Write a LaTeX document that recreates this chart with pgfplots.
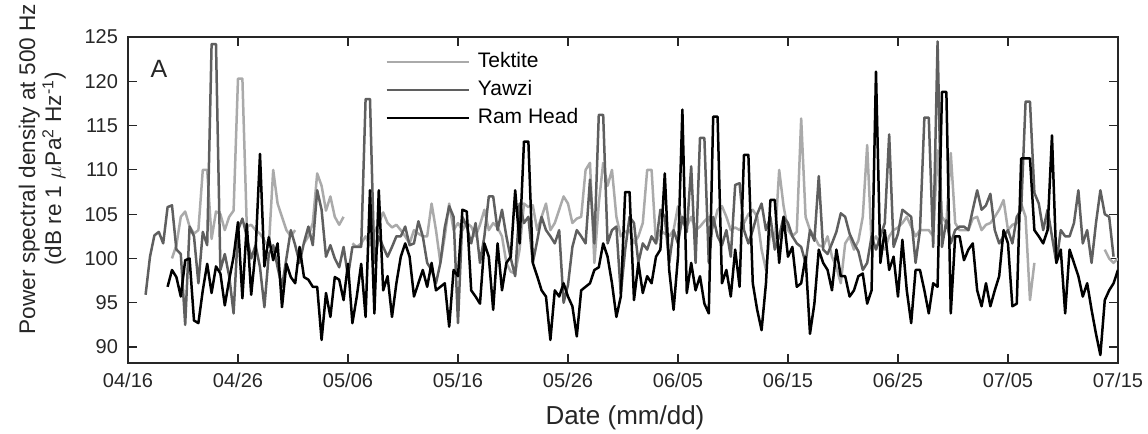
\documentclass[border=0pt]{standalone}
\usepackage{pgfplots}
\usepackage{pgfplotstable}
\pgfplotsset{compat=1.18}
\usepackage{fontspec}
\setmainfont{Liberation Sans}
\definecolor{tek}{RGB}{170,170,170}
\definecolor{yaw}{RGB}{95,95,95}
\definecolor{axc}{RGB}{38,38,38}
\pgfplotstableread{
idx T Y R
0 nan nan nan
1 nan nan nan
2 nan nan nan
3 nan nan nan
4 nan 95.9 nan
5 nan 100.2 nan
6 nan 102.6 nan
7 nan 103 nan
8 nan 101.7 nan
9 nan 105.8 96.8
10 100 106 98.7
11 101.5 101 97.9
12 104.7 100.5 95.7
13 105.3 92.5 99.8
14 103.6 103.6 100
15 102.8 102.5 93
16 103.2 97.2 92.7
17 110 103 96.4
18 110 101.5 99.4
19 102.2 124.2 96.1
20 105.3 124.2 99.1
21 105 98.7 98.3
22 103.2 100.5 94.7
23 104.7 98 97.6
24 105.4 93.8 100.2
25 120.3 103.2 104.1
26 120.3 104.5 95.5
27 103.6 102.5 103.9
28 103.8 100 95.9
29 103.2 101.5 100.9
30 102.8 99 111.8
31 102 94.5 99.1
32 101.3 100.5 102.4
33 110 101.5 99.8
34 106.2 99 101.7
35 104.7 96.8 94.5
36 103.2 100 99.4
37 102.5 103.2 97.9
38 103.2 101.5 97.2
39 nan 99.5 101.3
40 101.7 101.8 97.9
41 102.5 103.6 97.6
42 104 101.5 96.8
43 109.6 107.7 96.8
44 108.2 105.5 90.8
45 105.4 100.2 96.1
46 107 101.5 93.4
47 104.7 100 97.9
48 103.8 99 97.6
49 104.7 101.3 95.3
50 nan 98 99.4
51 101.7 101.3 92.7
52 101.3 101.3 95.7
53 101.7 101.3 99.4
54 102.5 118 93.4
55 101.5 118 107.7
56 103 99.5 93.8
57 104 102.5 107.7
58 105.2 101.3 96.4
59 104 100.2 98
60 103.5 101.3 93.4
61 103.8 102.5 97.2
62 103.2 102.5 100.2
63 102.5 103.6 101.7
64 101.7 101.5 100.2
65 103.2 101.7 95.7
66 102.8 104.2 97.2
67 102.5 102.5 98.7
68 102.5 99.5 96.8
69 106.2 98.7 99.5
70 103.2 97.2 96.4
71 99.5 99.5 96.8
72 102.5 103.5 97.2
73 106.2 105.9 92.3
74 103.2 104.7 98.7
75 104 92.7 98
76 103.2 104.7 105.5
77 104 103.6 105.3
78 103.6 101.7 96.4
79 102.5 104 95.7
80 103.8 99.5 94.9
81 105.5 102.5 101.7
82 103.2 107 100.2
83 104 107 94.2
84 103.5 103.2 101.7
85 102.5 105.5 96.4
86 99.5 102.5 99.5
87 98.5 100 100.2
88 98.3 98 107.7
89 101 106.2 101.7
90 106.2 104 113.2
91 105.8 104.7 113.2
92 106 99.5 99.5
93 103.2 102 98
94 104.7 104.7 96.4
95 106.2 103.2 95.7
96 103.2 102.5 90.8
97 104 101.7 96.4
98 105.5 103.2 95.7
99 107 95 97.2
100 106.2 97 95.7
101 104 101.3 94.6
102 104.5 103.2 91.2
103 104.7 102.5 96.4
104 110 101.7 96.8
105 110.8 108.9 97.2
106 99.5 101.7 98.7
107 106.2 116.2 99
108 110.8 116.2 101.7
109 108.2 101.7 100.2
110 110 103.2 97.2
111 104.7 103.6 93.4
112 102.5 96 95.7
113 103 101 107.5
114 103.2 104.7 107.5
115 101.7 104 95.3
116 102.5 99.5 99.5
117 104 101.7 96.1
118 110 101 98
119 110 102.5 97.2
120 101.7 101.7 100.2
121 103.2 105.5 101
122 102.8 104.7 109.6
123 102.5 99.5 98.7
124 103.2 103.2 94.2
125 105.9 101.7 100.2
126 104 104.7 116.8
127 103.6 103 96.1
128 104.7 110.4 99.5
129 103.2 99.5 96.4
130 103.6 113.6 98
131 104.2 113.6 94.9
132 104.7 99.5 93.8
133 103.5 104.7 116
134 105.5 102.5 116
135 105.9 101.5 97.2
136 104.7 103.2 98.7
137 103.2 100.2 95.7
138 103.5 108.3 101
139 103.2 108.5 96.8
140 104 103.2 111.7
141 105 101.7 111.7
142 105.5 103.2 97.2
143 104.7 105 94.2
144 101 106.2 91.9
145 98.7 103.2 97.2
146 103.2 104.7 106.6
147 101.7 101 106.6
148 110 102.5 99.5
149 105.9 104.7 104.7
150 103.2 104 100.2
151 102.5 102.5 101.3
152 103 101.7 96.8
153 115.8 101.3 97.2
154 104.7 99.5 100.2
155 103.2 103.2 91.5
156 102.5 102 94.9
157 101.5 109.3 101
158 101.3 101 99.5
159 102.5 100.5 98.7
160 100.2 101.7 96.4
161 99 103 101
162 97.2 105.1 98
163 101.7 104.7 98
164 102.5 102.8 95.7
165 101 101.7 96.4
166 102 100.8 98
167 104.7 98.7 98.3
168 112.8 99.5 94.9
169 101.7 102.5 96.4
170 102.5 101 121.1
171 101.5 102.5 99.5
172 101 104 103.2
173 102.5 114 98.7
174 103.2 101.3 100.2
175 103.5 102.8 95.7
176 104 105.5 102.1
177 104.7 105.1 96.4
178 103.6 104.7 92.7
179 102.5 99.5 98.7
180 103.2 103.2 98.7
181 103.2 115.9 96.4
182 103.2 115.9 93.8
183 102.5 101.3 97.2
184 112.2 124.5 96.8
185 104.7 101.3 118.8
186 104 104.3 118.8
187 111.9 101.7 93.8
188 104 103.2 102.5
189 103.2 103.6 102.5
190 103.2 103.6 99.8
191 103.2 103.2 101
192 104.5 105.5 101.7
193 104.7 107.7 96.4
194 103.2 105.5 94.6
195 103.8 106 97.2
196 104 107.3 94.6
197 104.7 103.2 96.4
198 105.5 101.7 98
199 106.6 102.5 103.2
200 103.2 103.2 101.7
201 103.8 101.7 94.6
202 104 104.7 94.9
203 106.2 105.5 111.3
204 104.7 117.7 111.3
205 95.3 117.7 111.3
206 99.5 107.4 103.2
207 nan 106.2 102.5
208 nan 103.2 101.7
209 nan 105.5 103.2
210 nan 102.5 113.9
211 nan 99.5 99.5
212 nan 103.2 101
213 nan 102.5 93.8
214 nan 102.5 101
215 nan 104 99.5
216 nan 107.7 98
217 nan 101.7 95.7
218 nan 103.2 97.2
219 nan 99.5 94.2
220 nan 104 91.5
221 nan 107.7 89.1
222 101 105 95.3
223 100 104.7 96.4
224 99.5 100.2 97.2
225 100 nan 98.7
}\datatable
\begin{document}
\begin{tikzpicture}
\begin{axis}[
  name=ax,
  scale only axis,
  width=495pt, height=163pt,
  xmin=0, xmax=90, ymin=88.2, ymax=125,
  xtick={0,10,...,90},
  xticklabels={04/16,04/26,05/06,05/16,05/26,06/05,06/15,06/25,07/05,07/15},
  ytick={90,95,...,125},
  /pgf/number format/assume math mode=true,
  tick align=inside,
  major tick length=4.5pt,
  axis line style={axc, line width=0.6pt},
  every tick/.style={axc, line width=0.6pt},
  tick label style={font=\fontsize{10}{12}\selectfont, text=axc},
  xticklabel style={yshift=-1.5pt},
  yticklabel style={xshift=-1.5pt},
  xlabel={Date (mm/dd)},
  xlabel style={at={(rel axis cs:0.502,0)}, anchor=center, yshift=-27.5pt, font=\fontsize{13}{15}\selectfont, text=axc},
  ylabel={Power spectral density at 500 Hz\\(dB re 1 $\mu$Pa\textsuperscript{2} Hz\textsuperscript{-1})},
  ylabel style={at={(rel axis cs:-0.0865,0.595)}, anchor=center, align=center, font=\fontsize{11.3}{13}\selectfont, text=axc},
  unbounded coords=jump,
  legend cell align=left,
  legend image code/.code={\draw[#1] (0pt,0pt) -- (41pt,0pt);},
  legend style={at={(0.2596,0.962)}, anchor=north west, draw=none, fill=none,
    font=\fontsize{10.5}{12}\selectfont, inner sep=0pt, row sep=2pt,
    nodes={inner sep=1pt, text height=8pt, text depth=2pt},
    /tikz/every odd column/.append style={column sep=3pt}},
  every axis plot/.append style={line width=1.25pt, line join=round},
]
\addplot[tek, no markers] table[x expr=\thisrow{idx}*0.4, y=T] {\datatable};
\addlegendentry{Tektite}
\addplot[yaw, no markers] table[x expr=\thisrow{idx}*0.4, y=Y] {\datatable};
\addlegendentry{Yawzi}
\addplot[black, no markers] table[x expr=\thisrow{idx}*0.4, y=R] {\datatable};
\addlegendentry{Ram Head}
\node[font=\fontsize{12.5}{14}\selectfont, text=axc] at (rel axis cs:0.0313,0.902) {A};
\end{axis}
\pgfresetboundingbox
\path (ax.south west) ++(-64pt,-35.5pt) rectangle ++(574pt,217pt);
\end{tikzpicture}
\end{document}
